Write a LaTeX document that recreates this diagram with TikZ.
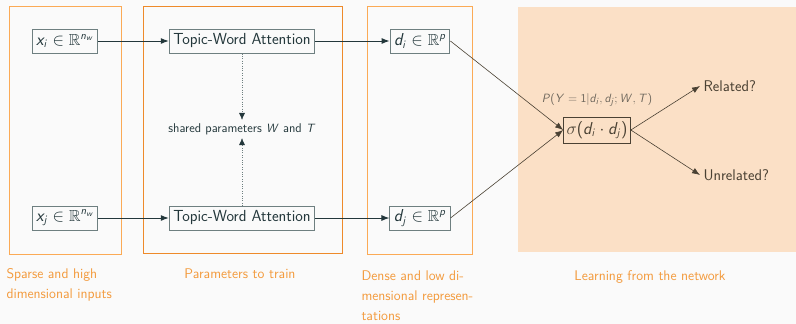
\documentclass[tikz,border=0pt]{standalone}
\usepackage{amssymb}
\usepackage{tikz}
\usetikzlibrary{positioning,arrows.meta}
\renewcommand{\familydefault}{\sfdefault}
% slanted sans letters in math
\DeclareSymbolFont{sfslletters}{OT1}{cmss}{m}{sl}
\DeclareSymbolFont{sfupright}{OT1}{cmss}{m}{n}
\DeclareMathSymbol{x}{\mathalpha}{sfslletters}{`x}
\DeclareMathSymbol{d}{\mathalpha}{sfslletters}{`d}
\DeclareMathSymbol{i}{\mathalpha}{sfslletters}{`i}
\DeclareMathSymbol{j}{\mathalpha}{sfslletters}{`j}
\DeclareMathSymbol{n}{\mathalpha}{sfslletters}{`n}
\DeclareMathSymbol{w}{\mathalpha}{sfslletters}{`w}
\DeclareMathSymbol{p}{\mathalpha}{sfslletters}{`p}
\DeclareMathSymbol{P}{\mathalpha}{sfslletters}{`P}
\DeclareMathSymbol{Y}{\mathalpha}{sfslletters}{`Y}
\DeclareMathSymbol{W}{\mathalpha}{sfslletters}{`W}
\DeclareMathSymbol{T}{\mathalpha}{sfslletters}{`T}
\DeclareMathSymbol{1}{\mathalpha}{sfupright}{`1}
\DeclareMathSymbol{(}{\mathopen}{sfupright}{`(}
\DeclareMathSymbol{)}{\mathclose}{sfupright}{`)}
\DeclareMathSymbol{=}{\mathrel}{sfupright}{`=}
\definecolor{bgGray}{HTML}{FAFAFA}
\definecolor{mDark}{HTML}{23373B}
\definecolor{nodeLine}{HTML}{6E7F80}
\definecolor{lightOrange}{HTML}{FBAA55}
\definecolor{darkOrange}{HTML}{EE8A2A}
\definecolor{capOrange}{HTML}{F39A3C}
\definecolor{blockBg}{HTML}{FBE0C6}
\definecolor{blockText}{HTML}{4A4133}

\begin{document}
\begin{tikzpicture}[x=1pt,y=-1pt,
  box/.style={draw=nodeLine, line width=1pt, fill=bgGray, text=mDark, inner xsep=4pt, inner ysep=3pt,
    minimum height=24pt, font=\fontsize{16}{18}\selectfont},
  blockbox/.style={draw=blockText, line width=1pt, text=blockText, inner xsep=3pt,
    minimum height=26pt, font=\fontsize{16}{18}\selectfont},
  flow/.style={-{Latex[length=8pt,width=6pt]}, line width=1pt, mDark},
  shareflow/.style={-{Latex[length=7pt,width=6pt,color=mDark]}, thin, dotted, nodeLine},
  blockflow/.style={-{Latex[length=8pt,width=6pt]}, semithick, blockText},
  frame/.style={line width=1pt},
  caption/.style={text=capOrange, align=left, font=\fontsize{14}{20}\selectfont}]
\useasboundingbox[fill=bgGray] (0,0) rectangle (796,324);
%
\fill[blockBg] (518,7) rectangle (796,252);
\draw[frame, lightOrange] (9,6) rectangle (121,254);
\draw[frame, darkOrange] (143,6) rectangle (342,253);
\draw[frame, lightOrange] (367,6) rectangle (472,254);
%
\node[box] (xi) at (65,41) {$x_i \in \mathbb{R}^{n_w}$};
\node[box] (xj) at (65,218) {$x_j \in \mathbb{R}^{n_w}$};
\node[box] (twai) at (242,41) {Topic-Word Attention};
\node[box] (twaj) at (242,218) {Topic-Word Attention};
\node[box] (di) at (420,41) {$d_i \in \mathbb{R}^{p}$};
\node[box] (dj) at (420,218) {$d_j \in \mathbb{R}^{p}$};
\node[text=mDark, font=\fontsize{12.7}{14}\selectfont] (shared) at (242,129) {shared parameters $W$ and $T$};
%
\node[blockbox] (sigma) at (597,130) {$\sigma(d_i \cdot d_j)$};
\node[text=blockText!80, font=\fontsize{12.5}{14}\selectfont] (prob) at (597,100) {$P(Y=1|d_i,d_j;W,T)$};
\node[text=blockText, anchor=west, font=\fontsize{15.5}{17}\selectfont] (rel) at (700,86) {Related?};
\node[text=blockText, anchor=west, font=\fontsize{15.5}{17}\selectfont] (unrel) at (700,175) {Unrelated?};
%
\draw[flow] (xi) -- (twai);
\draw[flow] (xj) -- (twaj);
\draw[flow] (twai) -- (di);
\draw[flow] (twaj) -- (dj);
\draw[shareflow] (twai) -- (shared);
\draw[shareflow] (twaj) -- (shared);
\draw[blockflow] (di.east) -- (sigma.west);
\draw[blockflow] (dj.east) -- (sigma.west);
\draw[blockflow] (sigma.east) -- (rel.west);
\draw[blockflow] (sigma.east) -- (unrel.west);
%
\node[caption, anchor=north west] (capa) at (3,265) {Sparse and high\\dimensional inputs};
\node[caption, anchor=north] (capb) at (240,265) {Parameters to train};
\node[caption, anchor=north west] (capc) at (358,267) {Dense and low di-\\mensional represen-\\tations};
\node[caption, anchor=north] (capd) at (650,267) {Learning from the network};
\end{tikzpicture}
\end{document}
